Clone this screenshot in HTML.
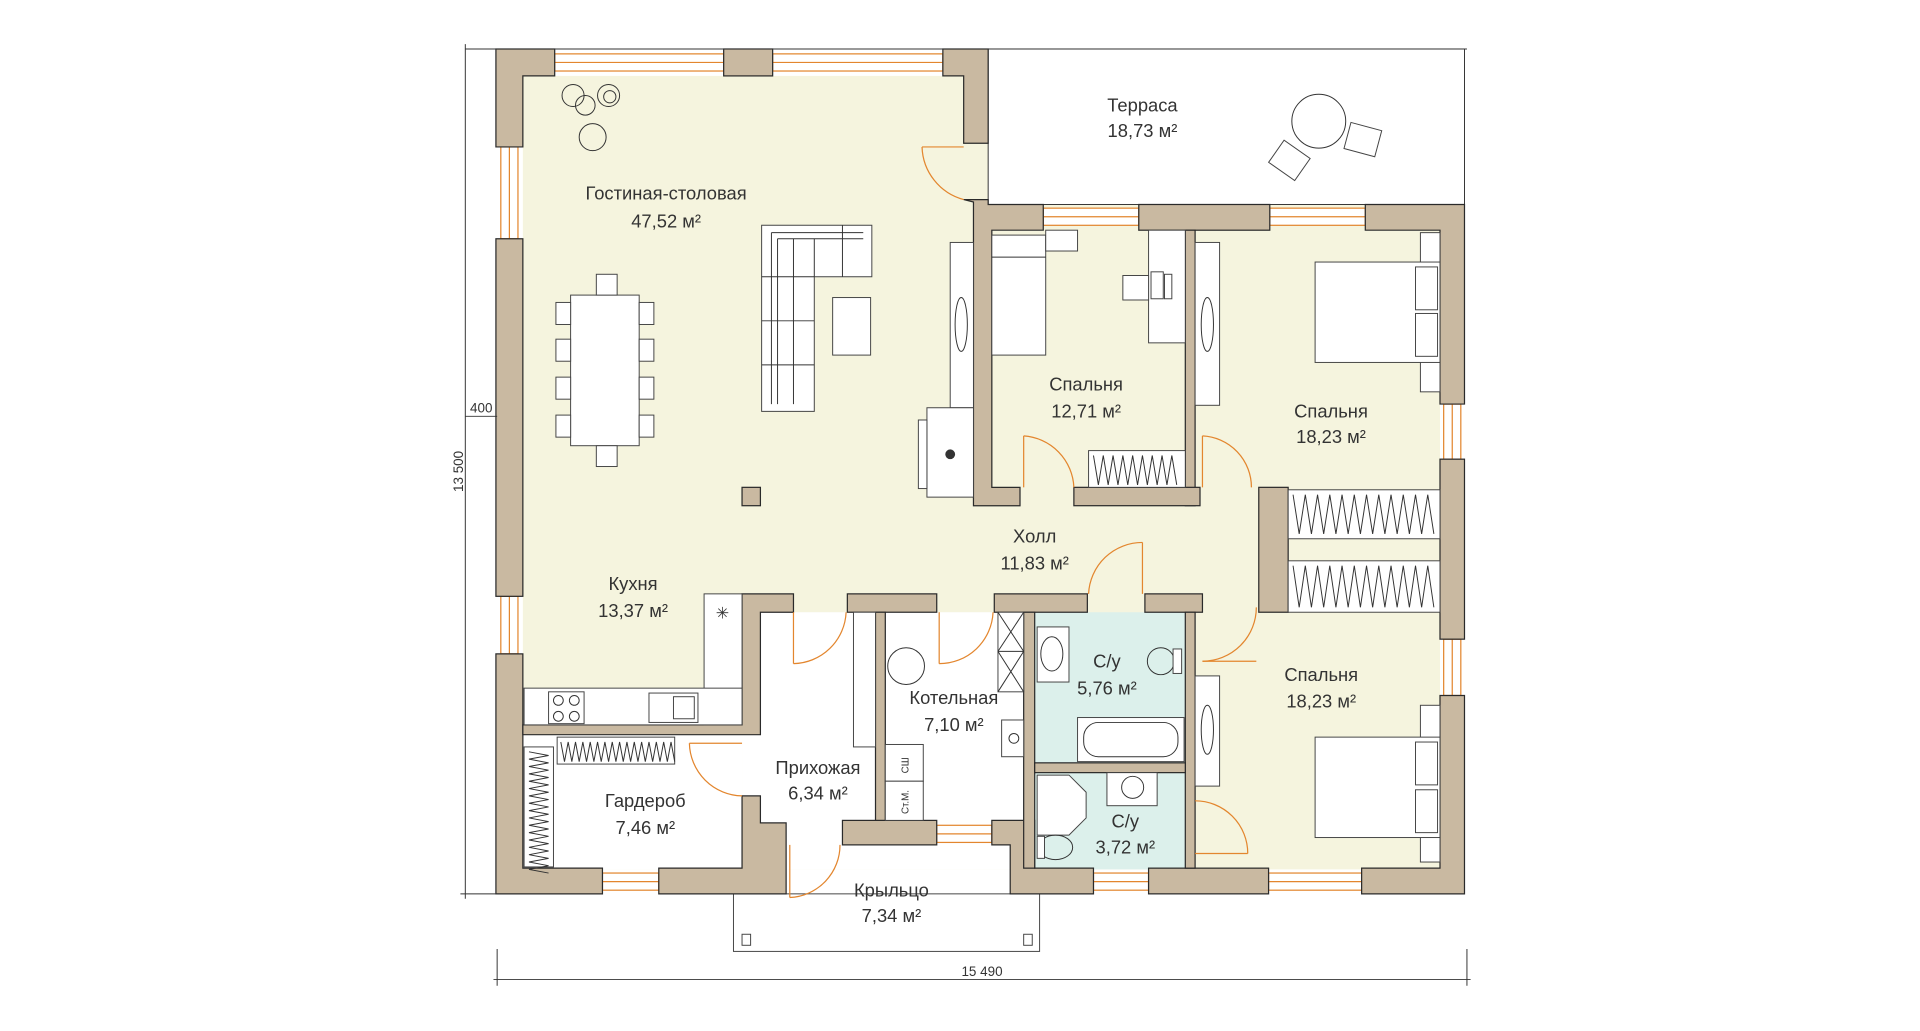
<!DOCTYPE html>
<html><head><meta charset="utf-8"><style>
html,body{margin:0;padding:0;background:#fff;}
svg{display:block;}
text{font-family:"Liberation Sans Narrow","Liberation Sans",sans-serif;fill:#333;font-size:15px;text-anchor:middle;}
.w{fill:#c9b9a1;stroke:#2a2a2a;stroke-width:1;}
.f{fill:#fff;stroke:#444;stroke-width:0.8;}
.d{fill:none;stroke:#e3862e;stroke-width:1;}
.win{fill:#fff;stroke:#e3862e;stroke-width:1;}
.l{stroke:#333;stroke-width:0.8;fill:none;}
</style></head><body>
<svg width="1920" height="1031" viewBox="0 0 1568 842" preserveAspectRatio="none" xmlns="http://www.w3.org/2000/svg">
<rect x="427" y="62" width="749" height="648" fill="#f5f4de"/>
<rect x="807" y="40" width="389" height="127" fill="#fff" stroke="#333" stroke-width="0.8"/>
<rect x="606" y="500" width="230" height="210" fill="#fff"/>
<rect x="427" y="600" width="179" height="110" fill="#fff"/>
<rect x="845" y="500" width="123" height="123" fill="#dcf0eb"/>
<rect x="845" y="631" width="123" height="79" fill="#dcf0eb"/>
<rect x="599" y="730" width="250" height="47" fill="#fff" stroke="#444" stroke-width="0.8"/>
<rect x="606" y="763" width="7" height="9" class="f"/><rect x="836" y="763" width="7" height="9" class="f"/>

<rect x="453" y="44" width="138" height="14" class="win"/><line x1="453" y1="51" x2="591" y2="51" class="d"/>
<rect x="631" y="44" width="139" height="14" class="win"/><line x1="631" y1="51" x2="770" y2="51" class="d"/>
<rect x="409" y="120" width="14" height="75" class="win"/><line x1="416" y1="120" x2="416" y2="195" class="d"/>
<rect x="409" y="487" width="14" height="47" class="win"/><line x1="416" y1="487" x2="416" y2="534" class="d"/>
<rect x="852" y="170" width="78" height="14" class="win"/><line x1="852" y1="177" x2="930" y2="177" class="d"/>
<rect x="1037" y="170" width="78" height="14" class="win"/><line x1="1037" y1="177" x2="1115" y2="177" class="d"/>
<rect x="1179" y="330" width="14" height="45" class="win"/><line x1="1186" y1="330" x2="1186" y2="375" class="d"/>
<rect x="1179" y="522" width="14" height="46" class="win"/><line x1="1186" y1="522" x2="1186" y2="568" class="d"/>
<rect x="492" y="713" width="46" height="14" class="win"/><line x1="492" y1="720" x2="538" y2="720" class="d"/>
<rect x="893" y="713" width="45" height="14" class="win"/><line x1="893" y1="720" x2="938" y2="720" class="d"/>
<rect x="1036" y="713" width="76" height="14" class="win"/><line x1="1036" y1="720" x2="1112" y2="720" class="d"/>
<rect x="765" y="674" width="45" height="14" class="win"/><line x1="765" y1="681" x2="810" y2="681" class="d"/>

<path class="w" d="M405 40H453V62H427V120H405Z"/>
<rect class="w" x="405" y="195" width="22" height="292"/>
<path class="w" d="M405 534H427V709H492V730H405Z"/>
<rect class="w" x="591" y="40" width="40" height="22"/>
<path class="w" d="M770 40H807V117H787V62H770Z"/>
<path class="w" d="M787 163H807V167H852V188H810V398H833V413H795V165Z"/>
<rect class="w" x="930" y="167" width="107" height="21"/>
<path class="w" d="M1115 167H1196V330H1176V188H1115Z"/>
<rect class="w" x="1176" y="375" width="20" height="147"/>
<path class="w" d="M1176 568H1196V730H1112V709H1176Z"/>
<rect class="w" x="968" y="188" width="8" height="225"/>
<rect class="w" x="877" y="398" width="103" height="15"/>
<rect class="w" x="1028" y="398" width="24" height="102"/>
<rect class="w" x="938" y="709" width="98" height="21"/>
<path class="w" d="M538 709H606V650H621V672H642V730H538Z"/>
<path class="w" d="M606 485H648V500H621V600H427V592H606Z"/>
<rect class="w" x="692" y="485" width="73" height="15"/>
<rect class="w" x="715" y="500" width="8" height="172"/>
<rect class="w" x="688" y="670" width="77" height="20"/>
<path class="w" d="M810 670H845V709H893V730H825V690H810Z"/>
<rect class="w" x="812" y="485" width="76" height="15"/>
<rect class="w" x="836" y="500" width="9" height="209"/>
<rect class="w" x="935" y="485" width="47" height="15"/>
<rect class="w" x="968" y="500" width="8" height="209"/>
<rect class="w" x="845" y="623" width="123" height="8"/>
<rect class="w" x="606" y="398" width="15" height="15"/>

<path class="d" d="M787 163A46 46 0 0 1 753 120"/><line x1="753" y1="120" x2="787" y2="120" class="d"/>
<path class="d" d="M877 398A44 44 0 0 0 836 356"/><line x1="836" y1="356" x2="836" y2="398" class="d"/>
<path class="d" d="M1022 398A42 42 0 0 0 982 356"/><line x1="982" y1="356" x2="982" y2="398" class="d"/>
<path class="d" d="M889 485A44 44 0 0 1 933 443"/><line x1="933" y1="443" x2="933" y2="485" class="d"/>
<path class="d" d="M982 540A44 44 0 0 0 1026 496"/><line x1="982" y1="540" x2="1026" y2="540" class="d"/>
<path class="d" d="M648 542A44 44 0 0 0 691 500"/><line x1="648" y1="500" x2="648" y2="542" class="d"/>
<path class="d" d="M767 542A44 44 0 0 0 811 500"/><line x1="767" y1="500" x2="767" y2="542" class="d"/>
<path class="d" d="M606 650A44 44 0 0 1 563 607"/><line x1="563" y1="607" x2="606" y2="607" class="d"/>
<path class="d" d="M976 654A43 43 0 0 1 1019 697"/><line x1="976" y1="697" x2="1019" y2="697" class="d"/>
<path class="d" d="M645 733A43 43 0 0 0 686 690"/><line x1="645" y1="690" x2="645" y2="733" class="d"/>

<rect class="f" x="466" y="241" width="56" height="123"/>
<rect class="f" x="487" y="224" width="17" height="17"/><rect class="f" x="487" y="364" width="17" height="17"/>
<g class="f"><rect x="454" y="247" width="12" height="18"/><rect x="454" y="277" width="12" height="18"/><rect x="454" y="308" width="12" height="18"/><rect x="454" y="339" width="12" height="18"/>
<rect x="522" y="247" width="12" height="18"/><rect x="522" y="277" width="12" height="18"/><rect x="522" y="308" width="12" height="18"/><rect x="522" y="339" width="12" height="18"/></g>
<path class="f" d="M622 184H712V226H665V336H622Z"/>
<path class="l" d="M630 190H705M630 190V330M635 195H705M635 195V330M648 195V330M665 195V226M688 184V226M622 226H665M622 262H665M622 298H665"/>
<rect class="f" x="680" y="243" width="31" height="47"/>
<rect class="f" x="776" y="198" width="19" height="135"/>
<ellipse cx="785" cy="265" rx="5" ry="22" class="l"/>
<rect class="f" x="757" y="333" width="38" height="73"/><rect class="f" x="750" y="343" width="7" height="56"/>
<circle cx="776" cy="371" r="4" fill="#333"/>
<g class="l"><circle cx="468" cy="78" r="9"/><circle cx="478" cy="86" r="8"/><circle cx="497" cy="78" r="9"/><circle cx="498" cy="79" r="5"/><circle cx="484" cy="112" r="11"/></g>
<circle cx="1077" cy="99" r="22" class="l"/>
<rect class="f" x="1100" y="103" width="26" height="22" transform="rotate(15 1113 114)"/>
<rect class="f" x="1040" y="120" width="26" height="22" transform="rotate(35 1053 131)"/>
<rect class="f" x="810" y="192" width="44" height="98"/><path class="l" d="M810 210H854"/>
<rect class="f" x="854" y="188" width="26" height="17"/>
<rect class="f" x="938" y="188" width="30" height="92"/>
<rect class="f" x="917" y="225" width="21" height="20"/><rect class="f" x="940" y="222" width="10" height="22"/><rect class="f" x="951" y="224" width="6" height="20"/>
<rect class="f" x="889" y="368" width="79" height="30"/>
<path class="l" d="M893 372l4 24 4-24 4 24 4-24 4 24 4-24 4 24 4-24 4 24 4-24 4 24 4-24 4 24 4-24 4 24 4-24 4 24"/>
<rect class="f" x="976" y="198" width="20" height="133"/><ellipse cx="986" cy="265" rx="5" ry="22" class="l"/>
<rect class="f" x="1160" y="190" width="16" height="130"/>
<rect class="f" x="1074" y="214" width="102" height="82"/><rect class="f" x="1156" y="218" width="18" height="35"/><rect class="f" x="1156" y="256" width="18" height="35"/>
<rect class="f" x="1052" y="400" width="124" height="40"/><rect class="f" x="1052" y="458" width="124" height="42"/>
<path class="l" d="M1056 404l5 32 5-32 5 32 5-32 5 32 5-32 5 32 5-32 5 32 5-32 5 32 5-32 5 32 5-32 5 32 5-32 5 32 5-32 5 32 5-32 5 32 5-32 5 32M1056 462l5 34 5-34 5 34 5-34 5 34 5-34 5 34 5-34 5 34 5-34 5 34 5-34 5 34 5-34 5 34 5-34 5 34 5-34 5 34 5-34 5 34 5-34 5 34"/>
<rect class="f" x="976" y="552" width="20" height="90"/><ellipse cx="986" cy="596" rx="5" ry="20" class="l"/>
<rect class="f" x="1160" y="576" width="16" height="128"/>
<rect class="f" x="1074" y="602" width="102" height="82"/><rect class="f" x="1156" y="606" width="18" height="35"/><rect class="f" x="1156" y="645" width="18" height="35"/>
<rect class="f" x="575" y="485" width="31" height="107"/><text x="590" y="505" style="font-size:13px">✳</text>
<rect class="f" x="428" y="562" width="178" height="30"/>
<rect class="f" x="448" y="565" width="29" height="26"/><circle cx="456" cy="572" r="4" class="l"/><circle cx="469" cy="572" r="4" class="l"/><circle cx="456" cy="585" r="4" class="l"/><circle cx="469" cy="585" r="4" class="l"/>
<rect class="f" x="530" y="566" width="40" height="24"/><rect class="f" x="550" y="569" width="17" height="18"/>
<rect class="f" x="455" y="602" width="96" height="22"/><rect class="f" x="428" y="610" width="24" height="98"/>
<path class="l" d="M458 606l3 16 3-16 3 16 3-16 3 16 3-16 3 16 3-16 3 16 3-16 3 16 3-16 3 16 3-16 3 16 3-16 3 16 3-16 3 16 3-16 3 16 3-16 3 16 3-16 3 16 3-16 3 16 3-16 3 16 3-16 3 16M432 614l16 3-16 3 16 3-16 3 16 3-16 3 16 3-16 3 16 3-16 3 16 3-16 3 16 3-16 3 16 3-16 3 16 3-16 3 16 3-16 3 16 3-16 3 16 3-16 3 16 3-16 3 16 3-16 3 16 3-16 3 16 3-16 3 16 3"/>
<rect class="f" x="697" y="500" width="18" height="110"/>
<circle cx="740" cy="544" r="15" class="l"/>
<rect class="f" x="815" y="500" width="21" height="65"/><path class="l" d="M815 500L836 532M836 500L815 532M815 532L836 565M836 532L815 565M815 532H836"/>
<rect class="f" x="818" y="588" width="18" height="30"/><circle cx="828" cy="603" r="4" class="l"/>
<rect class="f" x="723" y="608" width="31" height="30"/><rect class="f" x="723" y="638" width="31" height="32"/>
<text x="739" y="628" style="font-size:8px" transform="rotate(-90 739 625)">СШ</text>
<text x="739" y="658" style="font-size:8px" transform="rotate(-90 739 655)">Ст.М.</text>
<rect class="f" x="847" y="512" width="26" height="45"/><ellipse cx="859" cy="534" rx="9" ry="14" class="l"/>
<ellipse cx="948" cy="540" rx="11" ry="11" class="l"/><rect class="f" x="958" y="530" width="7" height="20"/>
<rect class="f" x="880" y="586" width="87" height="36"/><rect class="l" x="885" y="590" width="77" height="28" rx="12"/>
<path class="f" d="M847 633H873L887 647V668L873 682H847Z"/>
<rect class="f" x="904" y="631" width="41" height="27"/><circle cx="925" cy="643" r="9" class="l"/>
<ellipse cx="862" cy="692" rx="14" ry="10" class="l"/><rect class="f" x="847" y="683" width="6" height="18"/>

<text x="933" y="91">Терраса</text><text x="933" y="112">18,73 м²</text>
<text x="544" y="163">Гостиная-столовая</text><text x="544" y="186">47,52 м²</text>
<text x="887" y="319">Спальня</text><text x="887" y="341">12,71 м²</text>
<text x="1087" y="341">Спальня</text><text x="1087" y="362">18,23 м²</text>
<text x="845" y="443">Холл</text><text x="845" y="465">11,83 м²</text>
<text x="517" y="482">Кухня</text><text x="517" y="504">13,37 м²</text>
<text x="904" y="545">С/у</text><text x="904" y="567">5,76 м²</text>
<text x="779" y="575">Котельная</text><text x="779" y="597">7,10 м²</text>
<text x="1079" y="556">Спальня</text><text x="1079" y="578">18,23 м²</text>
<text x="668" y="632">Прихожая</text><text x="668" y="653">6,34 м²</text>
<text x="527" y="659">Гардероб</text><text x="527" y="681">7,46 м²</text>
<text x="919" y="676">С/у</text><text x="919" y="697">3,72 м²</text>
<text x="728" y="732">Крыльцо</text><text x="728" y="753">7,34 м²</text>

<path class="l" d="M380 40H1198M380 36V734M376 730H406M380 340H406M406 775V805M1198 775V805M403 800H1201"/>
<text x="393" y="337" style="font-size:11px">400</text>
<text x="378" y="385" style="font-size:11px" transform="rotate(-90 378 385)">13 500</text>
<text x="802" y="797" style="font-size:11px">15 490</text>
</svg>
</body></html>
